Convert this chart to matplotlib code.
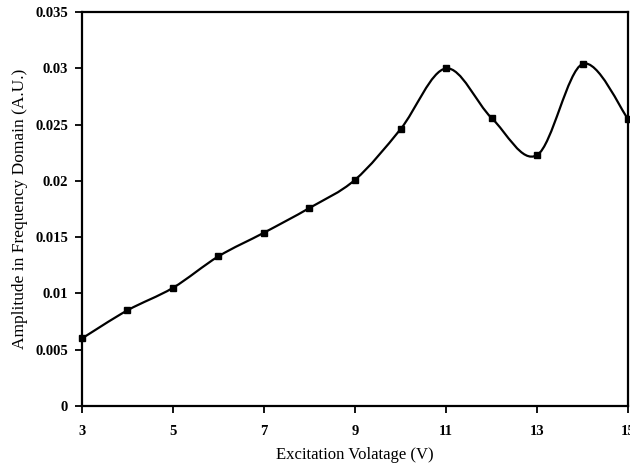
import matplotlib.pyplot as plt
import numpy as np
from matplotlib.path import Path
from matplotlib.patches import PathPatch

voltage = [3, 4, 5, 6, 7, 8, 9, 10, 11, 12, 13, 14, 15]
amplitude = [0.006, 0.0085, 0.0105, 0.0133, 0.0154, 0.0176, 0.0201,
             0.0246, 0.0300, 0.0256, 0.0223, 0.0304, 0.0255]
xticks = [3, 5, 7, 9, 11, 13, 15]
yticks = [0, 0.005, 0.01, 0.015, 0.02, 0.025, 0.03, 0.035]
ytick_labels = ['0', '0.005', '0.01', '0.015', '0.02', '0.025', '0.03', '0.035']

plt.rcParams['font.family'] = ['Liberation Serif', 'DejaVu Serif']

fig = plt.figure(figsize=(6.3, 4.68), dpi=100)
ax = fig.add_axes([0.130, 0.1325, 0.867, 0.8415])

# smoothed line (bezier through the points, spreadsheet style)
pts = np.column_stack([voltage, amplitude])
verts = [pts[0]]
codes = [Path.MOVETO]
n = len(pts)
k = 1 / 6.0
for i in range(n - 1):
    p0 = pts[max(i - 1, 0)]
    p1 = pts[i]
    p2 = pts[i + 1]
    p3 = pts[min(i + 2, n - 1)]
    c1 = p1 + (p2 - p0) * k
    c2 = p2 - (p3 - p1) * k
    verts += [c1, c2, p2]
    codes += [Path.CURVE4] * 3
ax.add_patch(PathPatch(Path(verts, codes), facecolor='none', edgecolor='black', lw=1.6))
ax.plot(voltage, amplitude, 's', color='black', ms=5, clip_on=False, zorder=3)

ax.set_xlim(3, 15)
ax.set_ylim(0, 0.035)
ax.set_xticks(xticks)
ax.set_xticklabels([str(t) for t in xticks], fontweight='bold', fontsize=10.5)
ax.set_yticks(yticks)
ax.set_yticklabels(ytick_labels, fontweight='bold', fontsize=10.5)
ax.tick_params(direction='out', length=5, width=1.3, pad=5)
ax.tick_params(axis='x', pad=9)
for s in ax.spines.values():
    s.set_linewidth(1.6)

ax.set_xlabel('Excitation Volatage (V)', fontsize=12, labelpad=6)
ax.set_ylabel('Amplitude in Frequency Domain (A.U.)', fontsize=12.5, labelpad=5)

fig.savefig('out.png', dpi=100)
